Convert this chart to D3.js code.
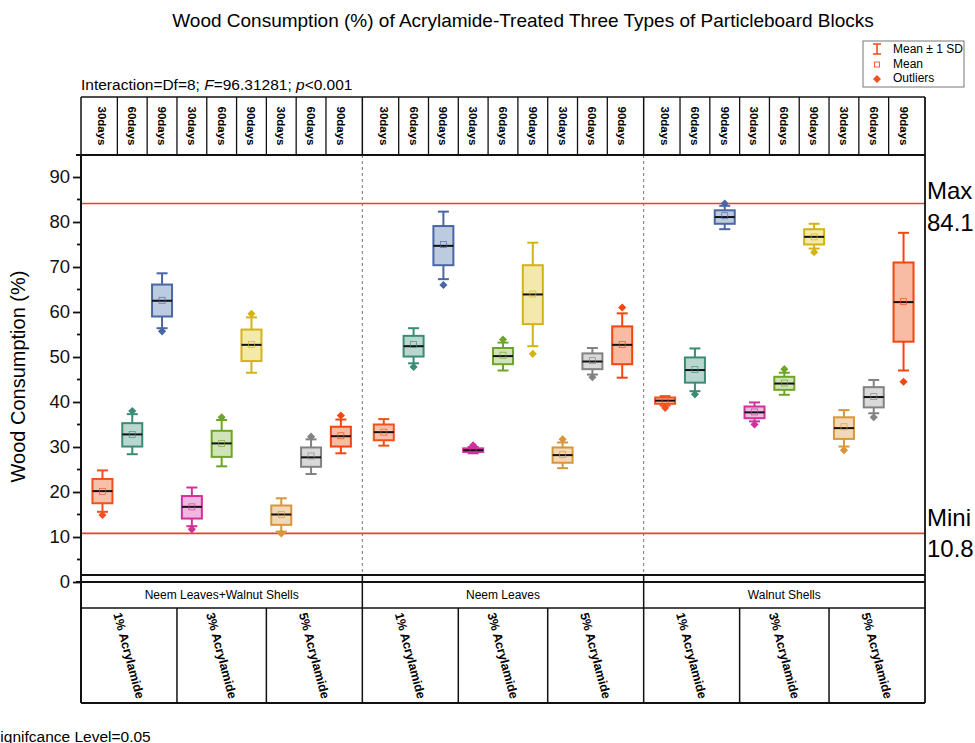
<!DOCTYPE html>
<html lang="en">
<head>
    <meta charset="UTF-8">
    <script src="https://cdn.jsdelivr.net/npm/d3@7/dist/d3.min.js"></script>
    <title>Wood Consumption</title>
    <style>
        body { margin: 0; background: #fff; }
        svg { display: block; font-family: "Liberation Sans", Arial, sans-serif; }
    </style>
</head>
<body>
    <svg id="chart" width="975" height="743"></svg>
</body>

<script>
    // categories
    const groups = ["Neem Leaves+Walnut Shells", "Neem Leaves", "Walnut Shells"];
    const concentrations = ["1% Acrylamide", "3% Acrylamide", "5% Acrylamide"];
    const days = ["30days", "60days", "90days"];

    // one value per box, order: group > concentration > days
    const whiskerHi = [24.8, 37.3, 68.6, 21.0, 36.0, 58.8, 18.6, 31.7, 36.1,
                       36.2, 56.4, 82.3, 30.0, 53.2, 75.4, 31.0, 52.0, 59.7,
                       41.3, 51.9, 83.6, 39.9, 46.5, 79.6, 38.2, 44.9, 77.6];
    const q3 =        [22.9, 35.3, 66.1, 19.1, 33.6, 56.1, 17.0, 29.9, 34.5,
                       35.0, 54.7, 79.1, 29.7, 52.0, 70.4, 29.9, 50.8, 56.8,
                       41.0, 49.9, 82.6, 39.0, 45.6, 78.4, 36.6, 43.3, 71.0];
    const median =    [20.2, 32.8, 62.5, 16.7, 30.8, 52.7, 15.0, 27.7, 32.4,
                       33.3, 52.4, 74.7, 29.3, 50.2, 63.9, 28.2, 49.0, 52.7,
                       40.3, 47.1, 81.1, 37.7, 44.1, 76.7, 34.2, 41.1, 62.2];
    const q1 =        [17.5, 30.1, 59.0, 14.1, 27.8, 49.1, 12.7, 25.6, 30.1,
                       31.5, 50.1, 70.4, 28.9, 48.4, 57.3, 26.5, 47.3, 48.4,
                       39.6, 44.3, 79.6, 36.4, 42.7, 75.0, 31.8, 38.8, 53.4];
    const whiskerLo = [15.6, 28.4, 56.4, 12.4, 25.7, 46.5, 11.2, 24.0, 28.6,
                       30.3, 48.6, 67.3, 28.6, 47.0, 52.4, 25.3, 46.1, 45.4,
                       39.2, 42.4, 78.4, 35.7, 41.6, 74.1, 30.1, 37.5, 47.0];
    const means =     [20.1, 32.8, 62.6, 16.7, 30.8, 52.8, 15.0, 28.0, 32.5,
                       33.3, 52.8, 75.0, 29.3, 50.4, 64.0, 28.3, 49.2, 52.8,
                       40.3, 47.2, 81.4, 37.8, 44.2, 76.7, 34.5, 41.2, 62.3];
    const outliers =  [14.9, 38.0, 55.7, 11.7, 36.6, 59.6, 10.8, 32.3, 37.0,
                       null, 47.8, 66.0, 30.4, 53.9, 50.7, 31.7, 45.5, 61.0,
                       38.7, 41.7, 84.1, 35.0, 47.3, 73.3, 29.3, 36.6, 44.5];

    const yTicks = d3.range(0, 91, 10);
    const maxValue = 84.1;
    const minValue = 10.8;

    // stroke / fill per position within a group
    const strokes = ["#f2501c", "#3b8b76", "#4a66a4", "#d2309d", "#6ea526", "#d3b414", "#d8963a", "#828282", "#f2450f"];
    const fills =   ["#f8c0a8", "#b9d7ce", "#bccbe0", "#efb8df", "#d1e4b9", "#f2e9ab", "#f3d8b7", "#d9d9d9", "#f8bba3"];

    const svg = d3.select("#chart");

    const left = 81, right = 925;
    const headTop = 97, plotTop = 155, tableTop = 575, yZero = 582, rowMid = 608, tableBottom = 703;

    const y = d3.scaleLinear().domain([0, 90]).range([yZero, 177]);
    const gx = d3.scaleBand().domain(groups).range([left, right]);
    const ix = d3.scalePoint().domain(d3.range(9)).range([0, gx.bandwidth()]).padding(0.72);

    const boxes = whiskerHi.map((_, i) => {
        const g = Math.floor(i / 9), k = i % 9;
        return {
            i, g, k,
            group: groups[g],
            conc: concentrations[Math.floor(k / 3)],
            day: days[k % 3],
            x: gx(groups[g]) + ix(k),
            hi: whiskerHi[i], q3: q3[i], med: median[i], q1: q1[i], lo: whiskerLo[i],
            mean: means[i], out: outliers[i]
        };
    });

    // cell edges, half way between neighbour boxes
    function cellLeft(b) {
        return b.k === 0 ? gx(b.group) : gx(b.group) + (ix(b.k) + ix(b.k - 1)) / 2;
    }
    function cellRight(b) {
        return b.k === 8 ? gx(b.group) + gx.bandwidth() : gx(b.group) + (ix(b.k) + ix(b.k + 1)) / 2;
    }

    // title
    svg.append("text")
        .attr("x", 523).attr("y", 27)
        .attr("text-anchor", "middle")
        .attr("font-size", 19)
        .text("Wood Consumption (%) of Acrylamide-Treated Three Types of Particleboard Blocks");

    const inter = svg.append("text")
        .attr("x", 81).attr("y", 90)
        .attr("font-size", 15.5);
    inter.append("tspan").text("Interaction=Df=8; ");
    inter.append("tspan").attr("font-style", "italic").text("F");
    inter.append("tspan").text("=96.31281; ");
    inter.append("tspan").attr("font-style", "italic").text("p");
    inter.append("tspan").text("<0.001");

    // header table with days
    const head = svg.append("g");
    head.selectAll("text")
        .data(boxes)
        .join("text")
        .attr("transform", d => `translate(${d.x},${(headTop + plotTop) / 2}) rotate(90)`)
        .attr("text-anchor", "middle")
        .attr("dy", "0.35em")
        .attr("font-size", 11.5)
        .attr("font-weight", "bold")
        .text(d => d.day);
    head.selectAll("line.div")
        .data(boxes.filter(b => b.k > 0))
        .join("line")
        .attr("x1", cellLeft).attr("x2", cellLeft)
        .attr("y1", headTop).attr("y2", plotTop)
        .attr("stroke", "#111").attr("stroke-width", 1.3);
    head.append("line")
        .attr("x1", left).attr("x2", right).attr("y1", headTop).attr("y2", headTop)
        .attr("stroke", "#111").attr("stroke-width", 1.5);
    head.selectAll("line.grp")
        .data(groups)
        .join("line")
        .attr("x1", d => gx(d)).attr("x2", d => gx(d))
        .attr("y1", headTop).attr("y2", plotTop)
        .attr("stroke", "#111").attr("stroke-width", 1.5);

    // group separators in the plot
    svg.append("g").selectAll("line")
        .data(groups.slice(1))
        .join("line")
        .attr("x1", d => gx(d)).attr("x2", d => gx(d))
        .attr("y1", plotTop).attr("y2", tableTop)
        .attr("stroke", "#777").attr("stroke-width", 1)
        .attr("stroke-dasharray", "3,3");

    // max / min reference lines
    svg.append("g").selectAll("line")
        .data([maxValue, minValue])
        .join("line")
        .attr("x1", left).attr("x2", right)
        .attr("y1", d => y(d)).attr("y2", d => y(d))
        .attr("stroke", "#f23a3a").attr("stroke-width", 1.6);

    const refLabels = svg.append("g").attr("font-size", 24);
    refLabels.append("text").attr("x", 927).attr("y", y(maxValue) - 5).text("Max");
    refLabels.append("text").attr("x", 927).attr("y", y(maxValue) + 27).text(maxValue.toFixed(1));
    refLabels.append("text").attr("x", 927).attr("y", y(minValue) - 7).text("Mini");
    refLabels.append("text").attr("x", 927).attr("y", y(minValue) + 24).text(minValue.toFixed(1));

    // y axis
    const yAxis = svg.append("g")
        .attr("transform", `translate(${left},0)`)
        .call(d3.axisLeft(y).tickValues(yTicks).tickSize(8).tickPadding(3));
    yAxis.select(".domain").remove();
    yAxis.selectAll(".tick line").attr("stroke", "#111").attr("stroke-width", 1.8);
    yAxis.selectAll(".tick text").attr("font-size", 18.5).attr("fill", "#111")
        .attr("font-family", "Liberation Sans, Arial, sans-serif");
    yAxis.append("g").selectAll("line")
        .data(yTicks.map(v => v + 5).filter(v => v < 94))
        .join("line")
        .attr("x1", -4).attr("x2", 0)
        .attr("y1", d => y(d)).attr("y2", d => y(d))
        .attr("stroke", "#111").attr("stroke-width", 1.8);
    svg.append("line")
        .attr("x1", left).attr("x2", left).attr("y1", plotTop).attr("y2", tableBottom)
        .attr("stroke", "#111").attr("stroke-width", 2);
    svg.append("line")
        .attr("x1", 76).attr("x2", right).attr("y1", plotTop).attr("y2", plotTop)
        .attr("stroke", "#111").attr("stroke-width", 1.8);
    svg.append("line")
        .attr("x1", right).attr("x2", right).attr("y1", headTop).attr("y2", tableBottom)
        .attr("stroke", "#111").attr("stroke-width", 1.8);

    svg.append("text")
        .attr("transform", `translate(25,${(plotTop + yZero) / 2 + 8}) rotate(-90)`)
        .attr("text-anchor", "middle")
        .attr("font-size", 20)
        .text("Wood Consumption (%)");

    // boxes
    const bw = 20, cap = 11;
    const box = svg.append("g").selectAll("g")
        .data(boxes)
        .join("g")
        .attr("transform", d => `translate(${d.x},0)`);

    box.append("line")
        .attr("y1", d => y(d.hi)).attr("y2", d => y(d.lo))
        .attr("stroke", d => strokes[d.k]).attr("stroke-width", 2);
    box.selectAll("line.cap")
        .data(d => [{v: d.hi, k: d.k}, {v: d.lo, k: d.k}])
        .join("line")
        .attr("x1", -cap / 2).attr("x2", cap / 2)
        .attr("y1", d => y(d.v)).attr("y2", d => y(d.v))
        .attr("stroke", d => strokes[d.k]).attr("stroke-width", 2);
    box.append("rect")
        .attr("x", -bw / 2).attr("width", bw)
        .attr("y", d => y(d.q3)).attr("height", d => y(d.q1) - y(d.q3))
        .attr("fill", d => fills[d.k])
        .attr("stroke", d => strokes[d.k]).attr("stroke-width", 2);
    box.append("line")
        .attr("x1", -bw / 2).attr("x2", bw / 2)
        .attr("y1", d => y(d.med)).attr("y2", d => y(d.med))
        .attr("stroke", "#111").attr("stroke-width", 2);
    box.append("rect")
        .attr("x", -3).attr("width", 6)
        .attr("y", d => y(d.mean) - 3).attr("height", 6)
        .attr("fill", "none")
        .attr("stroke", d => strokes[d.k]).attr("stroke-width", 0.8)
        .attr("opacity", 0.8);
    box.filter(d => d.out != null).append("path")
        .attr("d", d3.symbol(d3.symbolDiamond2, 42))
        .attr("transform", d => `translate(0,${y(d.out)})`)
        .attr("fill", d => strokes[d.k]);

    // bottom table
    const table = svg.append("g").attr("stroke", "#111");
    table.append("line").attr("x1", left).attr("x2", right).attr("y1", tableTop).attr("y2", tableTop).attr("stroke-width", 2);
    table.append("line").attr("x1", 76).attr("x2", right).attr("y1", yZero).attr("y2", yZero).attr("stroke-width", 1.8);
    table.append("line").attr("x1", left).attr("x2", right).attr("y1", rowMid).attr("y2", rowMid).attr("stroke-width", 1.5);
    table.append("line").attr("x1", left).attr("x2", right).attr("y1", tableBottom).attr("y2", tableBottom).attr("stroke-width", 1.8);
    table.selectAll("line.grp")
        .data(groups.slice(1))
        .join("line")
        .attr("x1", d => gx(d)).attr("x2", d => gx(d))
        .attr("y1", tableTop).attr("y2", tableBottom)
        .attr("stroke-width", 1.5);
    const concCells = boxes.filter(b => b.k % 3 === 0).map(b => ({
        ...b, l: cellLeft(b), r: cellRight(boxes[b.i + 2])
    }));
    table.selectAll("line.conc")
        .data(concCells.filter(c => c.k > 0))
        .join("line")
        .attr("x1", d => d.l).attr("x2", d => d.l)
        .attr("y1", rowMid).attr("y2", tableBottom)
        .attr("stroke-width", 1.5);

    svg.append("g").selectAll("text")
        .data(groups)
        .join("text")
        .attr("x", d => gx(d) + gx.bandwidth() / 2)
        .attr("y", (yZero + rowMid) / 2 + 4)
        .attr("text-anchor", "middle")
        .attr("font-size", 12)
        .text(d => d);

    svg.append("g").selectAll("text")
        .data(concCells)
        .join("text")
        .attr("transform", d => `translate(${(d.l + d.r) / 2},${(rowMid + tableBottom) / 2}) rotate(75)`)
        .attr("text-anchor", "middle")
        .attr("dy", "0.35em")
        .attr("font-size", 12.5)
        .attr("font-weight", "bold")
        .text(d => d.conc);

    svg.append("text")
        .attr("x", -10).attr("y", 742)
        .attr("font-size", 15.5)
        .text("Signifcance Level=0.05");

    // legend
    const legend = svg.append("g").attr("transform", "translate(863,41)");
    legend.append("rect").attr("width", 101).attr("height", 46)
        .attr("fill", "#fff").attr("stroke", "#777").attr("stroke-width", 1);
    const lc = "#f2501c";
    const sd = legend.append("g").attr("stroke", lc).attr("stroke-width", 1.6);
    sd.append("line").attr("x1", 14).attr("x2", 14).attr("y1", 3).attr("y2", 13);
    sd.append("line").attr("x1", 10).attr("x2", 18).attr("y1", 3).attr("y2", 3);
    sd.append("line").attr("x1", 10).attr("x2", 18).attr("y1", 13).attr("y2", 13);
    legend.append("rect").attr("x", 11.5).attr("y", 21).attr("width", 5).attr("height", 5)
        .attr("fill", "none").attr("stroke", lc).attr("stroke-width", 0.9);
    legend.append("path").attr("d", d3.symbol(d3.symbolDiamond2, 40))
        .attr("transform", "translate(14,38)").attr("fill", lc);
    legend.selectAll("text")
        .data(["Mean \u00b1 1 SD", "Mean", "Outliers"])
        .join("text")
        .attr("x", 30)
        .attr("y", (d, i) => 12 + i * 14.5)
        .attr("font-size", 12)
        .text(d => d);
</script>
</html>
